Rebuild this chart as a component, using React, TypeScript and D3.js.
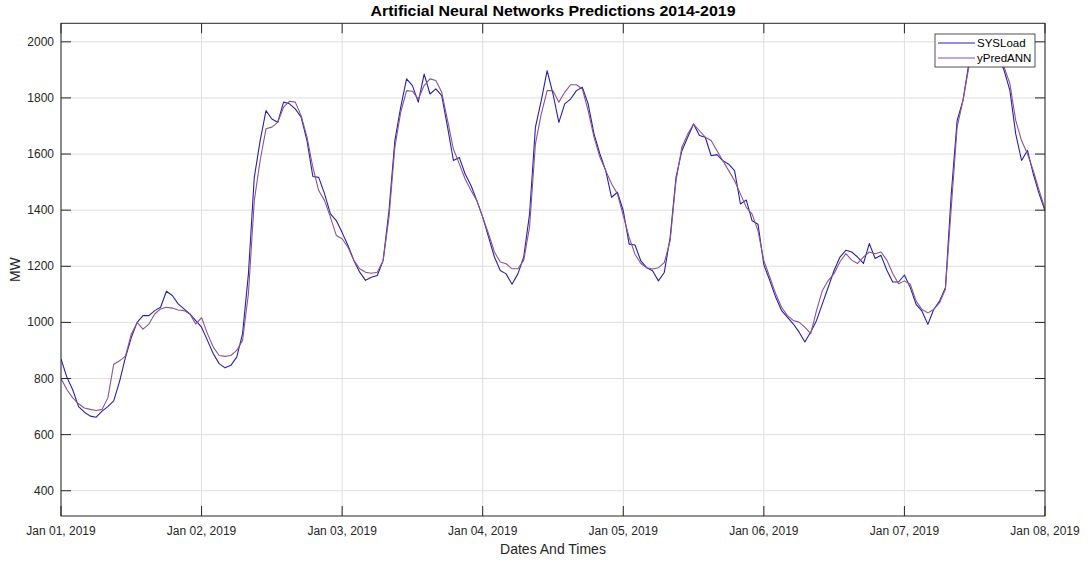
import React from "react";
import * as d3 from "d3";

// Hourly system load (MW), Jan 01 00:00 – Jan 08 00:00, 2019
const sysLoad: number[] = [
  870, 805, 760, 700, 680, 666, 662, 684, 700, 720, 790, 875, 946, 1000, 1024, 1024, 1042, 1054, 1111, 1096, 1066, 1048, 1030, 1006,
  983, 936, 888, 853, 838, 847, 876, 960, 1173, 1517, 1648, 1755, 1725, 1713, 1785, 1779, 1761, 1731, 1648, 1520, 1517, 1458, 1387, 1363,
  1320, 1274, 1221, 1179, 1150, 1161, 1167, 1221, 1399, 1648, 1767, 1868, 1844, 1785, 1885, 1814, 1832, 1808, 1696, 1577, 1588, 1529, 1488, 1434,
  1375, 1304, 1233, 1185, 1173, 1136, 1173, 1233, 1387, 1696, 1791, 1897, 1814, 1713, 1779, 1796, 1826, 1838, 1779, 1672, 1601, 1541, 1446, 1464,
  1398, 1279, 1276, 1219, 1195, 1184, 1148, 1178, 1303, 1517, 1612, 1660, 1707, 1666, 1660, 1594, 1598, 1576, 1564, 1541, 1422, 1436, 1362, 1350,
  1205, 1150, 1091, 1043, 1019, 995, 966, 930, 966, 1007, 1067, 1126, 1186, 1233, 1257, 1251, 1233, 1210, 1281, 1228, 1239, 1186, 1144, 1144,
  1169, 1124, 1064, 1040, 993, 1046, 1076, 1124, 1458, 1720, 1791, 1923, 1985, 1995, 1970, 1990, 1950, 1899, 1827, 1672, 1577, 1613, 1529, 1458,
  1398,
];

// Hourly ANN prediction (MW), same timestamps
const yPredANN: number[] = [
  800, 761, 731, 710, 695, 690, 686, 690, 731, 851, 863, 880, 958, 1000, 976, 994, 1030, 1048, 1054, 1051, 1044, 1042, 1030, 994,
  1017, 960, 912, 882, 879, 882, 900, 936, 1102, 1434, 1577, 1690, 1696, 1713, 1767, 1788, 1785, 1737, 1660, 1553, 1470, 1434, 1375, 1310,
  1298, 1268, 1221, 1191, 1179, 1175, 1179, 1221, 1375, 1624, 1749, 1826, 1824, 1796, 1844, 1868, 1862, 1820, 1720, 1618, 1565, 1511, 1470, 1434,
  1375, 1316, 1251, 1215, 1209, 1191, 1191, 1221, 1340, 1636, 1743, 1826, 1826, 1785, 1820, 1847, 1847, 1832, 1755, 1660, 1589, 1541, 1494, 1458,
  1380, 1303, 1243, 1210, 1195, 1190, 1195, 1213, 1291, 1505, 1624, 1671, 1707, 1683, 1660, 1648, 1612, 1576, 1541, 1505, 1458, 1410, 1386, 1326,
  1220, 1162, 1103, 1055, 1025, 1007, 1001, 983, 960, 1043, 1114, 1150, 1174, 1216, 1245, 1222, 1210, 1233, 1251, 1245, 1251, 1222, 1174, 1138,
  1148, 1136, 1076, 1046, 1034, 1046, 1070, 1118, 1410, 1696, 1791, 1911, 1960, 1975, 1980, 1965, 1945, 1911, 1851, 1720, 1648, 1601, 1541, 1470,
  1404,
];

const startTime = new Date(Date.UTC(2019, 0, 1, 0, 0, 0));
const endTime = new Date(Date.UTC(2019, 0, 8, 0, 0, 0));
const yTicks: number[] = [400, 600, 800, 1000, 1200, 1400, 1600, 1800, 2000];
const yDomain: [number, number] = [310, 2066];

const seriesNames = ["SYSLoad", "yPredANN"];
const seriesColors = ["#2222ae", "#8c5490"];

const W = 1090;
const H = 561;
const left = 61;
const right = 1045;
const top = 23.3;
const bottom = 516;
const tickLen = 10;
const axisColor = "#262626";
const gridColor = "#dfdfdf";
const font = "'Liberation Sans', Arial, Helvetica, sans-serif";

export default function App() {
  const times = sysLoad.map((_, i) => d3.utcHour.offset(startTime, i));
  const x = d3.scaleUtc().domain([startTime, endTime]).range([left, right]);
  const y = d3.scaleLinear().domain(yDomain).range([bottom, top]);
  const xTicks = d3.utcDay.range(startTime, d3.utcDay.offset(endTime, 1));
  const fmt = d3.utcFormat("%b %d, %Y");

  const line = d3
    .line<number>()
    .x((_, i) => x(times[i]))
    .y((d) => y(d));

  const series = [sysLoad, yPredANN];

  const lgX = 935;
  const lgY = 34;
  const lgW = 100;
  const lgH = 33;

  return (
    <div style={{ position: "absolute", left: 0, top: 0 }}>
      <svg width={W} height={H} style={{ display: "block", background: "#fff" }}>
        <rect x={0} y={0} width={W} height={H} fill="#fff" />
        <defs>
          <clipPath id="plotClip">
            <rect x={left} y={top} width={right - left} height={bottom - top} />
          </clipPath>
        </defs>
        {/* grid */}
        <g stroke={gridColor} strokeWidth={1}>
          {xTicks.map((t, i) => (
            <line key={"gx" + i} x1={x(t)} x2={x(t)} y1={top} y2={bottom} />
          ))}
          {yTicks.map((v, i) => (
            <line key={"gy" + i} x1={left} x2={right} y1={y(v)} y2={y(v)} />
          ))}
        </g>
        {/* series */}
        <g clipPath="url(#plotClip)" fill="none">
          {series.map((s, k) => (
            <path key={k} d={line(s) || ""} stroke={seriesColors[k]} strokeWidth={1.1} strokeLinejoin="round" />
          ))}
        </g>
        {/* box and inward ticks */}
        <g stroke={axisColor} strokeWidth={1}>
          <rect x={left} y={top} width={right - left} height={bottom - top} fill="none" />
          {xTicks.map((t, i) => (
            <g key={"tx" + i}>
              <line x1={x(t)} x2={x(t)} y1={bottom} y2={bottom - tickLen} />
              <line x1={x(t)} x2={x(t)} y1={top} y2={top + tickLen} />
            </g>
          ))}
          {yTicks.map((v, i) => (
            <g key={"ty" + i}>
              <line x1={left} x2={left + tickLen} y1={y(v)} y2={y(v)} />
              <line x1={right} x2={right - tickLen} y1={y(v)} y2={y(v)} />
            </g>
          ))}
        </g>
        {/* tick labels */}
        <g fontFamily={font} fontSize={12} fill={axisColor}>
          {xTicks.map((t, i) => (
            <text key={"lx" + i} x={x(t)} y={535} textAnchor="middle">
              {fmt(t)}
            </text>
          ))}
          {yTicks.map((v, i) => (
            <text key={"ly" + i} x={54} y={y(v) + 4} textAnchor="end">
              {v}
            </text>
          ))}
        </g>
        {/* axis titles */}
        <text x={(left + right) / 2} y={554} textAnchor="middle" fontFamily={font} fontSize={14} fill={axisColor}>
          Dates And Times
        </text>
        <text
          transform={`translate(20, ${(top + bottom) / 2}) rotate(-90)`}
          textAnchor="middle"
          fontFamily={font}
          fontSize={14}
          fill={axisColor}
        >
          MW
        </text>
        <text
          x={(left + right) / 2}
          y={15.5}
          textAnchor="middle"
          fontFamily={font}
          fontSize={14}
          fontWeight="bold"
          fill="#000"
          textLength={365}
          lengthAdjust="spacingAndGlyphs"
        >
          Artificial Neural Networks Predictions 2014-2019
        </text>
        {/* legend */}
        <g>
          <rect x={lgX} y={lgY} width={lgW} height={lgH} fill="#fff" stroke={axisColor} strokeWidth={0.8} />
          {seriesNames.map((n, k) => (
            <g key={n}>
              <line x1={lgX + 3} x2={lgX + 40} y1={lgY + 9 + k * 15} y2={lgY + 9 + k * 15} stroke={seriesColors[k]} strokeWidth={1.1} />
              <text x={lgX + 42} y={lgY + 13 + k * 15} fontFamily={font} fontSize={11.5} fill="#000">
                {n}
              </text>
            </g>
          ))}
        </g>
      </svg>
    </div>
  );
}
